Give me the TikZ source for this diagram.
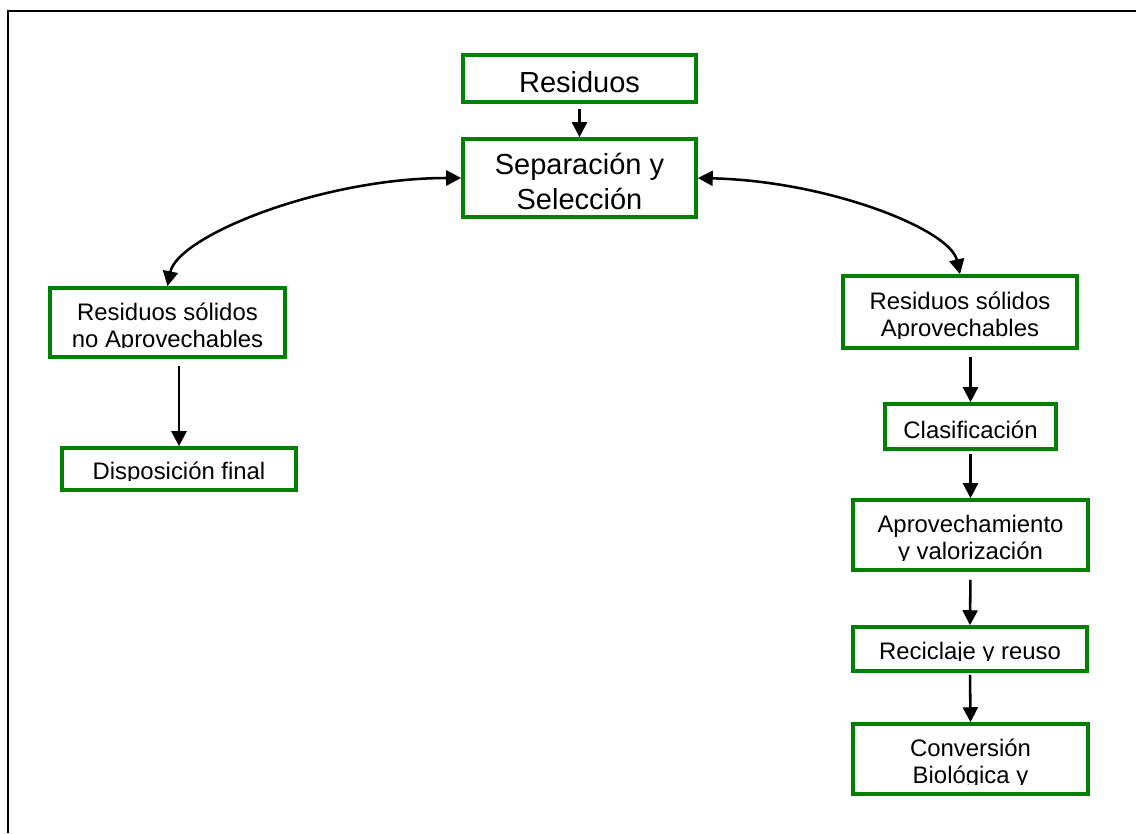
\documentclass[tikz,border=0pt]{standalone}
\usepackage{fontspec}
\setmainfont{Liberation Sans}
\usetikzlibrary{arrows.meta}
\definecolor{boxgreen}{RGB}{0,128,0}
\begin{document}
\begin{tikzpicture}[x=0.02cm,y=-0.02cm,
  box/.style={draw=boxgreen, line width=2.1pt, fill=white, inner sep=0pt},
  txt/.style={align=center, inner sep=0pt, text=black},
  big/.style={txt, font=\fontsize{16.5}{19.8}\selectfont},
  small/.style={txt, font=\fontsize{13.6}{15.4}\selectfont},
  arr/.style={line width=1.45pt, -{Triangle[length=8.5pt,width=8.5pt]}},
  darr/.style={line width=1.45pt, {Triangle[length=8.5pt,width=8.5pt]}-{Triangle[length=8.5pt,width=8.5pt]}}]
\useasboundingbox (0,0) rectangle (1136,833);
\draw[line width=1.1pt] (1136,11) -- (8,11) -- (8,833);

\node[box,minimum width=4.66cm,minimum height=0.94cm] (res) at (579.5,78.5) {};
\node[big] (res-t) at ([yshift=-2.2pt]res.center) {Residuos};
\node[box,minimum width=4.66cm,minimum height=1.56cm] (sep) at (579.5,178) {};
\node[big] (sep-t) at ([yshift=-1.8pt]sep.center) {Separación y\\Selección};

\node[box,minimum width=4.7cm,minimum height=1.38cm] (nap) at (167.5,322.5) {};
\begin{scope}
  \clip ([yshift=6.4pt]nap.south west) rectangle (nap.north east);
  \node[small] (nap-t) at ([yshift=-2.8pt]nap.center) {Residuos sólidos\\no Aprovechables};
\end{scope}
\node[box,minimum width=4.68cm,minimum height=0.84cm] (disp) at (179,469) {};
\begin{scope}
  \clip ([yshift=6.4pt]disp.south west) rectangle (disp.north east);
  \node[small] (disp-t) at ([yshift=-2.6pt]disp.center) {Disposición final};
\end{scope}
\node[box,minimum width=4.68cm,minimum height=1.44cm] (ap) at (960,312) {};
\begin{scope}
  \clip ([yshift=6.7pt]ap.south west) rectangle (ap.north east);
  \node[small] (ap-t) at ([yshift=-2.8pt]ap.center) {Residuos sólidos\\Aprovechables};
\end{scope}
\node[box,minimum width=3.42cm,minimum height=0.9cm] (clas) at (970.5,426.5) {};
\node[small] (clas-t) at ([yshift=-2pt]clas.center) {Clasificación};
\node[box,minimum width=4.7cm,minimum height=1.4cm] (aprov) at (970.5,535) {};
\begin{scope}
  \clip ([yshift=6.2pt]aprov.south west) rectangle (aprov.north east);
  \node[small] (aprov-t) at ([yshift=-2.8pt]aprov.center) {Aprovechamiento\\y valorización};
\end{scope}
\node[box,minimum width=4.68cm,minimum height=0.88cm] (recic) at (970,649) {};
\begin{scope}
  \clip ([yshift=6.8pt]recic.south west) rectangle (recic.north east);
  \node[small] (recic-t) at ([yshift=-2.6pt]recic.center) {Reciclaje y reuso};
\end{scope}
\node[box,minimum width=4.7cm,minimum height=1.4cm] (conv) at (970.5,759) {};
\begin{scope}
  \clip ([yshift=6.2pt]conv.south west) rectangle (conv.north east);
  \node[small] (conv-t) at ([yshift=-2.8pt]conv.center) {Conversión\\Biológica y};
\end{scope}

\draw[arr, shorten <=2.8pt] (res.south) -- (sep.north);
\draw[darr] (sep.west) .. controls +(-140,0) and +(10,-50) .. (nap.north);
\draw[darr] (sep.east) .. controls +(130,3) and +(-10,-45) .. (ap.north);
\draw[arr, shorten <=4pt] (nap.south -| disp.north) -- (disp.north);
\draw[arr, shorten <=4pt] (ap.south -| clas.north) -- (clas.north);
\draw[arr, shorten <=1.7pt] (clas.south) -- (aprov.north);
\draw[arr, shorten <=4.5pt] (aprov.south) -- (recic.north);
\draw[arr, shorten <=1.2pt] (recic.south) -- (conv.north);
\end{tikzpicture}
\end{document}
